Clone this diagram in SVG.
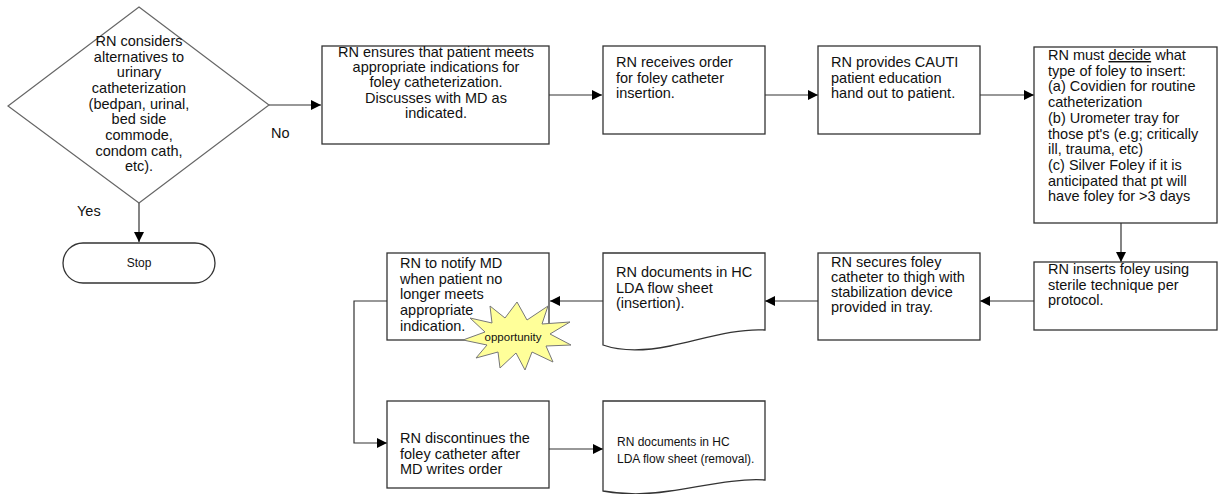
<svg xmlns="http://www.w3.org/2000/svg" width="1219" height="494" viewBox="0 0 1219 494">
<style>
text{font-family:"Liberation Sans",Arial,sans-serif;font-size:14.5px;fill:#111}
.box{fill:#fff;stroke:#333;stroke-width:1.3}
.dia{fill:#fff;stroke:#666;stroke-width:1.2}
.c{text-anchor:middle}
.sm{font-size:12px}
.con{fill:none;stroke:#333;stroke-width:1.2}
</style>
<defs>
<marker id="ah" viewBox="0 0 10 10" refX="10" refY="5" markerWidth="10" markerHeight="10" markerUnits="userSpaceOnUse" orient="auto">
<path d="M0,0 L10,5 L0,10 Z" fill="#000"/>
</marker>
</defs>
<g id="connectors">
<path class="con" d="M139,203 V242" marker-end="url(#ah)"/>
<path class="con" d="M269,105 H321" marker-end="url(#ah)"/>
<path class="con" d="M549,95 H602" marker-end="url(#ah)"/>
<path class="con" d="M765,95 H818" marker-end="url(#ah)"/>
<path class="con" d="M980,95 H1034" marker-end="url(#ah)"/>
<path class="con" d="M1121,223 V262" marker-end="url(#ah)"/>
<path class="con" d="M1034,301 H980" marker-end="url(#ah)"/>
<path class="con" d="M818,301 H765" marker-end="url(#ah)"/>
<path class="con" d="M603,301 H550" marker-end="url(#ah)"/>
<path class="con" d="M387,301 H354 V443 H387" marker-end="url(#ah)"/>
<path class="con" d="M549,449 H603" marker-end="url(#ah)"/>
<text x="271" y="138">No</text>
<text x="77" y="216">Yes</text>
</g>
<g id="decision">
<polygon class="dia" points="139,7 269,105 139,203 8,106"/>
<text class="c" x="139" y="46">RN considers</text>
<text class="c" x="139" y="62">alternatives to</text>
<text class="c" x="139" y="77">urinary</text>
<text class="c" x="139" y="93">catheterization</text>
<text class="c" x="139" y="109">(bedpan, urinal,</text>
<text class="c" x="139" y="124">bed side</text>
<text class="c" x="139" y="140">commode,</text>
<text class="c" x="139" y="156">condom cath,</text>
<text class="c" x="139" y="171">etc).</text>
</g>
<g id="stop">
<rect class="box" x="63" y="243" width="152" height="40" rx="20" ry="20"/>
<text class="c sm" x="139" y="267">Stop</text>
</g>
<g id="ensure">
<rect class="box" x="322" y="46" width="227" height="98"/>
<text class="c" x="436" y="57">RN ensures that patient meets</text>
<text class="c" x="436" y="72">appropriate indications for</text>
<text class="c" x="436" y="87">foley catheterization.</text>
<text class="c" x="436" y="103">Discusses with MD as</text>
<text class="c" x="436" y="118">indicated.</text>
</g>
<g id="order">
<rect class="box" x="603" y="46" width="162" height="88"/>
<text x="616" y="67">RN receives order</text>
<text x="616" y="83">for foley catheter</text>
<text x="616" y="98">insertion.</text>
</g>
<g id="educate">
<rect class="box" x="818" y="46" width="162" height="88"/>
<text x="831" y="67">RN provides CAUTI</text>
<text x="831" y="83">patient education</text>
<text x="831" y="98">hand out to patient.</text>
</g>
<g id="decide">
<rect class="box" x="1034" y="47" width="183" height="176"/>
<text x="1048" y="60">RN must <tspan text-decoration="underline">decide</tspan> what</text>
<text x="1048" y="75.7">type of foley to insert:</text>
<text x="1048" y="91.4">(a) Covidien for routine</text>
<text x="1048" y="107.1">catheterization</text>
<text x="1048" y="122.8">(b) Urometer tray for</text>
<text x="1048" y="138.5">those pt's (e.g; critically</text>
<text x="1048" y="154.2">ill, trauma, etc)</text>
<text x="1048" y="169.9">(c) Silver Foley if it is</text>
<text x="1048" y="185.6">anticipated that pt will</text>
<text x="1048" y="201.3">have foley for &gt;3 days</text>
</g>
<g id="insert">
<rect class="box" x="1034" y="262" width="183" height="68"/>
<text x="1048" y="274">RN inserts foley using</text>
<text x="1048" y="289.5">sterile technique per</text>
<text x="1048" y="305">protocol.</text>
</g>
<g id="secure">
<rect class="box" x="818" y="253" width="162" height="87"/>
<text x="831" y="267">RN secures foley</text>
<text x="831" y="282">catheter to thigh with</text>
<text x="831" y="297">stabilization device</text>
<text x="831" y="312">provided in tray.</text>
</g>
<g id="doc-insertion">
<path class="box" d="M603,253 H765 V330 C735,328 700,340 670,346 C645,351 620,351 603,345 Z"/>
<text x="616" y="277">RN documents in HC</text>
<text x="616" y="292.5">LDA flow sheet</text>
<text x="616" y="308">(insertion).</text>
</g>
<g id="notify">
<rect class="box" x="387" y="253" width="162" height="87"/>
<text x="400" y="268">RN to notify MD</text>
<text x="400" y="283.7">when patient no</text>
<text x="400" y="299.4">longer meets</text>
<text x="400" y="315.1">appropriate</text>
<text x="400" y="330.8">indication.</text>
</g>
<g id="opportunity">
<polygon points="517,302 527,320 548,306 542,324 570,322 550,334 571,345 546,346 553,362 532,352 525,370 516,353 500,368 498,352 476,358 487,345 463,340 485,332 470,318 492,323 490,306 505,318" fill="#FFFF99" stroke="#777" stroke-width="1"/>
<text class="c" x="513" y="341" style="font-size:11.5px">opportunity</text>
</g>
<g id="discontinue">
<rect class="box" x="387" y="401" width="162" height="87"/>
<text x="400" y="443">RN discontinues the</text>
<text x="400" y="458.5">foley catheter after</text>
<text x="400" y="474">MD writes order</text>
</g>
<g id="doc-removal">
<path class="box" d="M603,401 H765 V480 C735,478 700,487 670,491 C645,495 620,494 603,491 Z"/>
<text class="sm" x="617" y="446">RN documents in HC</text>
<text class="sm" x="617" y="463">LDA flow sheet (removal).</text>
</g>
</svg>
